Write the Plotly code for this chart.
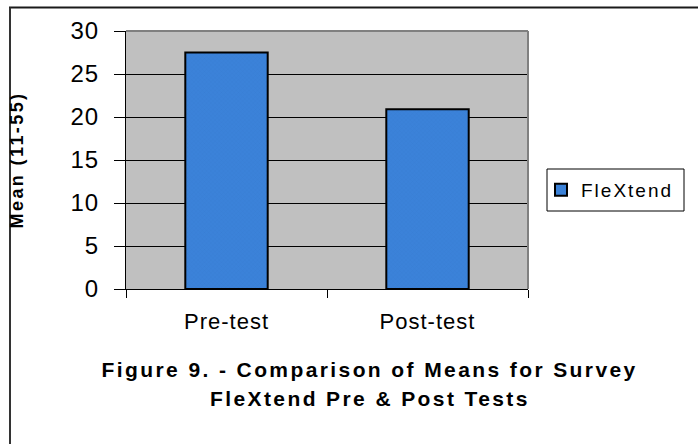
import plotly.graph_objects as go

categories = ["Pre-test", "Post-test"]
means = [27.5, 20.9]
series_name = "FleXtend"
y_ticks = [0, 5, 10, 15, 20, 25, 30]
y_title = "Mean (11-55)"
title_lines = ["Figure 9. - Comparison of Means for Survey", "FleXtend Pre & Post Tests"]

W, H = 698, 444
L, R, T, B = 126, 528, 31, 289  # plot area in pixels
FONT = "Liberation Sans, Arial, sans-serif"


def px(x):
    return (x - L) / (R - L)


def py(y):
    return (B - y) / (B - T)


fig = go.Figure()
fig.add_trace(go.Bar(
    x=categories, y=means, name=series_name,
    marker=dict(color="#3B82D9", line=dict(color="black", width=2),
                pattern=dict(shape="x", fgcolor="#3373c4", size=3, solidity=0.15)),
    width=0.41, showlegend=True,
))

fig.update_layout(
    width=W, height=H, autosize=False,
    margin=dict(l=L, r=W - R, t=T, b=H - B, pad=0, autoexpand=False),
    paper_bgcolor="white", plot_bgcolor="#C0C0C0",
    font=dict(family=FONT, color="black"),
    showlegend=True,
    legend=dict(orientation="v", x=px(541), y=py(190), xanchor="left", yanchor="middle",
                xref="paper", yref="paper", bgcolor="rgba(0,0,0,0)", borderwidth=0,
                font=dict(size=19, family=FONT)),
    xaxis=dict(showline=True, linecolor="black", linewidth=1, ticks="outside",
               tickson="boundaries", ticklen=8, tickcolor="black", tickwidth=1,
               tickfont=dict(size=22, family=FONT), ticklabelstandoff=13,
               showgrid=False, range=[-0.5, 1.5], fixedrange=True),
    yaxis=dict(showline=True, linecolor="black", linewidth=1, ticks="outside",
               ticklen=11, tickcolor="black", tickwidth=1, tickvals=y_ticks,
               tickfont=dict(size=24, family=FONT), ticklabelstandoff=10,
               range=[0, 30], showgrid=True, gridcolor="black", gridwidth=1,
               zeroline=False, fixedrange=True),
)

# plot-area border (top and right, gray)
fig.add_shape(type="line", xref="paper", yref="paper", x0=0, x1=1, y0=1, y1=1,
              line=dict(color="#808080", width=2), layer="above")
fig.add_shape(type="line", xref="paper", yref="paper", x0=1, x1=1, y0=0, y1=1,
              line=dict(color="#808080", width=2), layer="above")
# outer frame (top and left)
fig.add_shape(type="line", xref="paper", yref="paper", x0=px(9), x1=px(700), y0=py(7.5), y1=py(7.5),
              line=dict(color="#1a1a1a", width=2), layer="above")
fig.add_shape(type="line", xref="paper", yref="paper", x0=px(10), x1=px(10), y0=py(7.5), y1=py(446),
              line=dict(color="#333333", width=2), layer="above")
# legend box
fig.add_shape(type="rect", xref="paper", yref="paper", x0=px(547), x1=px(684), y0=py(169), y1=py(211),
              line=dict(color="black", width=1), fillcolor="white", layer="below")

fig.add_annotation(text="<b>" + y_title + "</b>", xref="paper", yref="paper",
                   x=px(17), y=py(160), textangle=-90, showarrow=False,
                   font=dict(size=18, family=FONT), xanchor="center", yanchor="middle")
fig.add_annotation(text="<b>" + title_lines[0] + "</b>", xref="paper", yref="paper",
                   x=px(370), y=py(369), showarrow=False,
                   font=dict(size=21, family=FONT), xanchor="center", yanchor="middle")
fig.add_annotation(text="<b>" + title_lines[1] + "</b>", xref="paper", yref="paper",
                   x=px(370), y=py(399), showarrow=False,
                   font=dict(size=21, family=FONT), xanchor="center", yanchor="middle")

post = """
document.body.style.margin = '0';
document.body.style.overflow = 'hidden';
var gd = document.getElementById('{plot_id}');
function sp(sel, v){ gd.querySelectorAll(sel).forEach(function(e){ e.style.letterSpacing = v; }); }
sp('.xtick text', '1px');
sp('.ytick text', '1px');
sp('.annotation-text', '2.4px');
sp('.legendtext', '2px');
gd.querySelectorAll('.legend, .legend *').forEach(function(e){ e.removeAttribute('clip-path'); e.style.clipPath = 'none'; });
"""

fig.write_html("out.html", post_script=post,
               config={"displayModeBar": False, "responsive": False})
